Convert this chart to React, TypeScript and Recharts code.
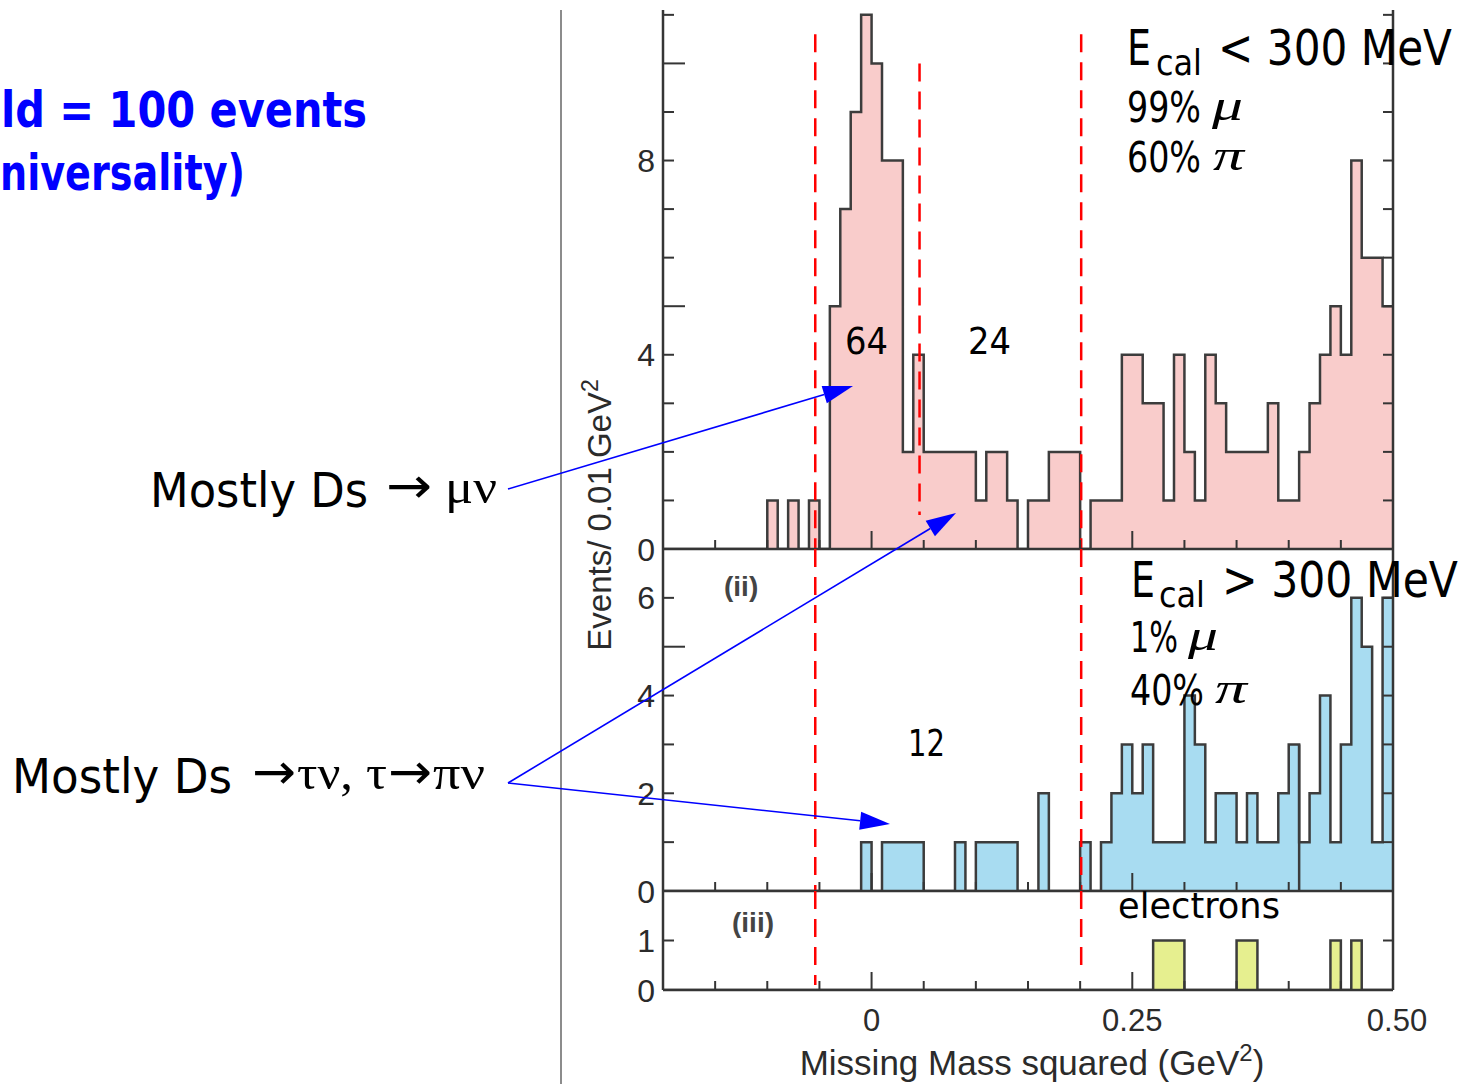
import React from 'react';
import { ComposedChart, Area, XAxis, YAxis, ReferenceLine } from 'recharts';

// Missing-mass-squared histograms, 0.01 GeV^2 bins from -0.20 to 0.50
const binStart = -0.2;
const binWidth = 0.01;

// (i) E_cal < 300 MeV
const lowEcalCounts = [
  0, 0, 0, 0, 0, 0, 0, 0, 0, 0, // -0.20 .. -0.11
  1, 0, 1, 0, 1, 0, 5, 7, 9, 11, // -0.10 .. -0.01
  10, 8, 8, 2, 4, 2, 2, 2, 2, 2, // 0.00 .. 0.09
  1, 2, 2, 1, 0, 1, 1, 2, 2, 2, // 0.10 .. 0.19
  0, 1, 1, 1, 4, 4, 3, 3, 1, 4, // 0.20 .. 0.29
  2, 1, 4, 3, 2, 2, 2, 2, 3, 1, // 0.30 .. 0.39
  1, 2, 3, 4, 5, 4, 8, 6, 6, 5, // 0.40 .. 0.49
];

// (ii) E_cal > 300 MeV
const highEcalCounts = [
  0, 0, 0, 0, 0, 0, 0, 0, 0, 0,
  0, 0, 0, 0, 0, 0, 0, 0, 0, 1,
  0, 1, 1, 1, 1, 0, 0, 0, 1, 0,
  1, 1, 1, 1, 0, 0, 2, 0, 0, 0,
  1, 0, 1, 2, 3, 2, 3, 1, 1, 1,
  4, 3, 1, 2, 2, 1, 2, 1, 1, 2,
  3, 1, 2, 4, 1, 3, 6, 5, 1, 6,
];

// (iii) electrons
const electronCounts = [
  0, 0, 0, 0, 0, 0, 0, 0, 0, 0,
  0, 0, 0, 0, 0, 0, 0, 0, 0, 0,
  0, 0, 0, 0, 0, 0, 0, 0, 0, 0,
  0, 0, 0, 0, 0, 0, 0, 0, 0, 0,
  0, 0, 0, 0, 0, 0, 0, 1, 1, 1,
  0, 0, 0, 0, 0, 1, 1, 0, 0, 0,
  0, 0, 0, 0, 1, 0, 1, 0, 0, 0,
];

const xTicks = [-0.2, -0.15, -0.1, -0.05, 0, 0.05, 0.1, 0.15, 0.2, 0.25, 0.3, 0.35, 0.4, 0.45, 0.5];
const xMajorTicks = [0, 0.25, 0.5];
const xLabelValues = [0, 0.25, 0.5];
const xLabelTexts = ['0', '0.25', '0.50'];

// signal-region cuts (GeV^2)
const cutPositions = [-0.054, 0.046, 0.201];

const AXIS = '#353535';
const EDGE = '#3c3c3c';
const COMIC = "'Comic Sans MS', 'DejaVu Sans', sans-serif";
const SERIF = "'Liberation Serif', 'DejaVu Serif', serif";
const HELV = "'Liberation Sans', Arial, sans-serif";
const ARROWFONT = "'DejaVu Sans', sans-serif";

const r2 = (v: number) => Math.round(v * 100) / 100;

function stepSeries(counts: number[]) {
  const pts = counts.map((n, i) => ({ m: r2(binStart + i * binWidth), n }));
  pts.push({ m: r2(binStart + counts.length * binWidth), n: counts[counts.length - 1] });
  return pts;
}

function countBetween(counts: number[], lo: number, hi: number) {
  return counts.reduce((s, c, i) => {
    const centre = binStart + (i + 0.5) * binWidth;
    return centre > lo && centre < hi ? s + c : s;
  }, 0);
}

const muPeakCount = countBetween(lowEcalCounts, cutPositions[0], cutPositions[1]);
const tauTailCount = countBetween(lowEcalCounts, cutPositions[1], cutPositions[2]);
const highEcalCount = countBetween(highEcalCounts, cutPositions[0], cutPositions[2]);

function XTick(props: any) {
  const { x, y, payload, showLabels } = props;
  const v = payload.value;
  const major = xMajorTicks.some((m) => Math.abs(m - v) < 1e-9);
  const li = xLabelValues.findIndex((m) => Math.abs(m - v) < 1e-9);
  const edge = Math.abs(v - 0.5) < 1e-9 || Math.abs(v + 0.2) < 1e-9;
  return (
    <g>
      {!edge && <line x1={x} y1={y} x2={x} y2={y - (major ? 18 : 9)} stroke={AXIS} strokeWidth={2} />}
      {showLabels && li >= 0 && (
        <text x={x + (v === 0.5 ? 4 : 0)} y={y + 41} textAnchor="middle" fontSize={31} fontFamily={HELV} fill="#2b2b2b">
          {xLabelTexts[li]}
        </text>
      )}
    </g>
  );
}

function YTickLeft(props: any) {
  const { x, y, payload, labels, majors } = props;
  const v = payload.value;
  const len = majors.includes(v) ? 22 : 11;
  return (
    <g>
      {v !== 0 && <line x1={x} y1={y} x2={x + len} y2={y} stroke={AXIS} strokeWidth={2} />}
      {labels.includes(v) && (
        <text x={x - 8} y={y} dy="0.36em" textAnchor="end" fontSize={32} fontFamily={HELV} fill="#2b2b2b">
          {String(v)}
        </text>
      )}
    </g>
  );
}

function YTickRight(props: any) {
  const { x, y, payload } = props;
  if (payload.value === 0) return <g />;
  return <line x1={x} y1={y} x2={x - 10} y2={y} stroke={AXIS} strokeWidth={2} />;
}

type Cut = { x: number; y1: number; y2: number };

function HistPanel(p: {
  top: number;
  plotHeight: number;
  yMax: number;
  yTicks: number[];
  yLabels: number[];
  yMajors: number[];
  counts: number[];
  fill: string;
  xAxisHeight: number;
  showXLabels: boolean;
  cuts: Cut[];
  extraEdges?: Cut[];
}) {
  const data = stepSeries(p.counts);
  const height = 10 + p.plotHeight + p.xAxisHeight;
  return (
    <div style={{ position: 'absolute', left: 0, top: p.top - 10, width: 1468, height }}>
      <ComposedChart width={1468} height={height} data={data} margin={{ top: 10, right: 65, bottom: 0, left: 603 }}>
        <XAxis
          dataKey="m"
          type="number"
          domain={[-0.2, 0.5]}
          allowDataOverflow
          ticks={xTicks}
          interval={0}
          height={p.xAxisHeight}
          tickSize={0}
          tickMargin={0}
          tickLine={false}
          axisLine={{ stroke: AXIS, strokeWidth: 2.5 }}
          tick={(tp: any) => <XTick {...tp} showLabels={p.showXLabels} />}
        />
        <YAxis
          yAxisId="left"
          width={60}
          domain={[0, p.yMax]}
          allowDataOverflow
          ticks={p.yTicks}
          interval={0}
          tickSize={0}
          tickMargin={0}
          tickLine={false}
          axisLine={{ stroke: AXIS, strokeWidth: 2.5 }}
          tick={(tp: any) => <YTickLeft {...tp} labels={p.yLabels} majors={p.yMajors} />}
        />
        <YAxis
          yAxisId="right"
          orientation="right"
          width={10}
          domain={[0, p.yMax]}
          allowDataOverflow
          ticks={p.yTicks}
          interval={0}
          tickSize={0}
          tickMargin={0}
          tickLine={false}
          axisLine={{ stroke: AXIS, strokeWidth: 2.5 }}
          tick={(tp: any) => <YTickRight {...tp} />}
        />
        <Area
          yAxisId="left"
          type="stepAfter"
          dataKey="n"
          fill={p.fill}
          fillOpacity={1}
          stroke={EDGE}
          strokeWidth={2.5}
          isAnimationActive={false}
          dot={false}
          activeDot={false}
        />
        {(p.extraEdges || []).map((c, i) => (
          <ReferenceLine
            key={'e' + i}
            yAxisId="left"
            segment={[{ x: c.x, y: c.y1 }, { x: c.x, y: c.y2 }]}
            stroke={EDGE}
            strokeWidth={2.5}
            ifOverflow="visible"
          />
        ))}
        {p.cuts.map((c, i) => (
          <ReferenceLine
            key={'c' + i}
            yAxisId="left"
            segment={[{ x: c.x, y: c.y1 }, { x: c.x, y: c.y2 }]}
            stroke="#ff0000"
            strokeWidth={2.5}
            strokeDasharray="18 10"
            ifOverflow="visible"
          />
        ))}
      </ComposedChart>
    </div>
  );
}

function Arrow({ x1, y1, x2, y2 }: { x1: number; y1: number; x2: number; y2: number }) {
  const dx = x2 - x1;
  const dy = y2 - y1;
  const L = Math.hypot(dx, dy);
  const ux = dx / L;
  const uy = dy / L;
  const hl = 30;
  const hw = 9;
  const bx = x2 - ux * hl;
  const by = y2 - uy * hl;
  const pts = `${x2},${y2} ${bx - uy * hw},${by + ux * hw} ${bx + uy * hw},${by - ux * hw}`;
  return (
    <g>
      <line x1={x1} y1={y1} x2={bx} y2={by} stroke="#0000ff" strokeWidth={1.6} />
      <polygon points={pts} fill="#0000ff" />
    </g>
  );
}

function T(props: {
  x: number;
  y: number;
  w?: number;
  size: number;
  family?: string;
  weight?: string | number;
  italic?: boolean;
  color?: string;
  children: React.ReactNode;
}) {
  return (
    <text
      x={props.x}
      y={props.y}
      fontSize={props.size}
      fontFamily={props.family || COMIC}
      fontWeight={props.weight}
      fontStyle={props.italic ? 'italic' : undefined}
      fill={props.color || '#000'}
      textLength={props.w}
      lengthAdjust={props.w ? 'spacingAndGlyphs' : undefined}
    >
      {props.children}
    </text>
  );
}

export default function App() {
  return (
    <div style={{ position: 'absolute', left: 0, top: 0, width: 1468, height: 1084, background: '#fff', overflow: 'hidden' }}>
      <HistPanel
        top={10}
        plotHeight={539}
        yMax={11.1}
        yTicks={[0, 1, 2, 3, 4, 5, 6, 7, 8, 9, 10, 11]}
        yLabels={[0, 4, 8]}
        yMajors={[5, 10]}
        counts={lowEcalCounts}
        fill="#f9cccb"
        xAxisHeight={22}
        showXLabels={false}
        cuts={[
          { x: cutPositions[0], y1: 10.6, y2: 0 },
          { x: cutPositions[1], y1: 10.0, y2: 0.7 },
          { x: cutPositions[2], y1: 10.6, y2: 0 },
        ]}
      />
      <HistPanel
        top={549}
        plotHeight={342}
        yMax={7}
        yTicks={[0, 1, 2, 3, 4, 5, 6]}
        yLabels={[0, 2, 4, 6]}
        yMajors={[5]}
        counts={highEcalCounts}
        fill="#a8dcf1"
        xAxisHeight={22}
        showXLabels={false}
        extraEdges={[{ x: 0.41, y1: 0, y2: 3 }]}
        cuts={[
          { x: cutPositions[0], y1: 7, y2: 0 },
          { x: cutPositions[2], y1: 7, y2: 0 },
        ]}
      />
      <HistPanel
        top={891}
        plotHeight={99}
        yMax={2}
        yTicks={[0, 1]}
        yLabels={[0, 1]}
        yMajors={[]}
        counts={electronCounts}
        fill="#e6ef8f"
        xAxisHeight={60}
        showXLabels={true}
        cuts={[
          { x: cutPositions[0], y1: 2, y2: 0.1 },
          { x: cutPositions[2], y1: 2, y2: 0.5 },
        ]}
      />

      <svg width={1468} height={1084} style={{ position: 'absolute', left: 0, top: 0, pointerEvents: 'none' }}>
        <line x1={561} y1={10} x2={561} y2={1084} stroke="#8c8c8c" strokeWidth={2} />

        {/* axis titles */}
        <text transform="translate(611,515) rotate(-90)" textAnchor="middle" fontSize={33} fontFamily={HELV} fill="#2b2b2b">
          Events/ 0.01 GeV<tspan dy={-13} fontSize={23}>2</tspan>
        </text>
        <text x={1032} y={1075} textAnchor="middle" fontSize={35} fontFamily={HELV} fill="#2b2b2b">
          Missing Mass squared (GeV<tspan dy={-14} fontSize={24}>2</tspan>
          <tspan dy={14}>)</tspan>
        </text>

        {/* panel tags */}
        <text x={724} y={596} fontSize={28} fontFamily={HELV} fill="#444" fontWeight="bold">(ii)</text>
        <text x={732} y={932} fontSize={28} fontFamily={HELV} fill="#444" fontWeight="bold">(iii)</text>

        {/* event counts inside the cut windows */}
        <T x={845} y={354} w={43} size={38}>{String(muPeakCount)}</T>
        <T x={968} y={354} w={43} size={38}>{String(tauTailCount)}</T>
        <T x={908} y={756} w={37} size={38}>{String(highEcalCount)}</T>

        {/* calorimeter energy selections */}
        <T x={1127} y={65} w={24} size={50}>E</T>
        <T x={1156} y={75} w={46} size={36}>cal</T>
        <T x={1218} y={65} w={234} size={50}>{'< 300 MeV'}</T>
        <T x={1127} y={122} w={74} size={42}>99%</T>
        <T x={1212} y={120} w={31} size={44} family={SERIF} italic>μ</T>
        <T x={1127} y={172} w={74} size={42}>60%</T>
        <T x={1213} y={170} w={31} size={44} family={SERIF} italic>π</T>

        <T x={1131} y={597} w={24} size={50}>E</T>
        <T x={1159} y={607} w={46} size={36}>cal</T>
        <T x={1222} y={597} w={236} size={50}>{'> 300 MeV'}</T>
        <T x={1130} y={652} w={48} size={42}>1%</T>
        <T x={1188} y={650} w={30} size={44} family={SERIF} italic>μ</T>
        <T x={1130} y={705} w={74} size={42}>40%</T>
        <T x={1215} y={703} w={32} size={44} family={SERIF} italic>π</T>

        <T x={1118} y={918} w={162} size={36}>electrons</T>

        {/* slide notes */}
        <T x={1} y={127} w={366} size={50} weight="bold" color="#0000ff">ld = 100 events</T>
        <T x={0} y={190} w={245} size={50} weight="bold" color="#0000ff">niversality)</T>

        <T x={150} y={507} w={218} size={48}>Mostly Ds</T>
        <T x={386} y={503} w={46} size={50} family={ARROWFONT}>→</T>
        <T x={445} y={503} w={52} size={48} family={SERIF}>μν</T>

        <T x={12} y={793} w={220} size={48}>Mostly Ds</T>
        <T x={252} y={789} w={44} size={50} family={ARROWFONT}>→</T>
        <T x={297} y={789} w={56} size={48} family={SERIF}>τν,</T>
        <T x={366} y={789} w={21} size={48} family={SERIF}>τ</T>
        <T x={388} y={789} w={44} size={50} family={ARROWFONT}>→</T>
        <T x={433} y={789} w={52} size={48} family={SERIF}>πν</T>

        <Arrow x1={508} y1={489} x2={853} y2={386} />
        <Arrow x1={508} y1={783} x2={956} y2={513} />
        <Arrow x1={508} y1={783} x2={890} y2={824} />
      </svg>
    </div>
  );
}
